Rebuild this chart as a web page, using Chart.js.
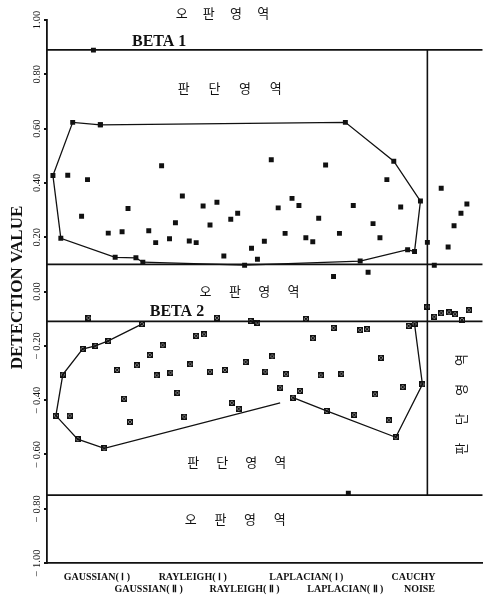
<!DOCTYPE html>
<html>
<head>
<meta charset="utf-8">
<script src="https://cdn.jsdelivr.net/npm/chart.js@4.4.0/dist/chart.umd.min.js"></script>
<style>
    body { margin: 0; background: #fff; }
    #wrap { width: 488px; height: 600px; position: relative; }
</style>
</head>
<body>
<div id="wrap"><canvas id="detectionChart"></canvas></div>
<script>
// threshold levels (detection value) and the x where the cauchy/noise strip starts
const upperBand = [0.89, 0.10];
const lowerBand = [-0.11, -0.75];
const noiseSplitX = 38.5;

// upper statistic: boundary of the decision region and the samples
const upperHull = [
    [5.4, 0.614], [2.6, 0.623], [0.6, 0.427], [1.4, 0.196], [6.9, 0.126], [9.0, 0.124],
    [9.7, 0.108], [20.0, 0.097], [31.7, 0.112], [36.5, 0.154], [37.2, 0.147], [37.8, 0.333],
    [35.1, 0.480], [30.2, 0.623], [5.4, 0.614]
];
const upperPoints = [
    [2.1, 0.428], [4.1, 0.412], [3.5, 0.277], [8.2, 0.306], [6.2, 0.215], [7.6, 0.220],
    [11.6, 0.463], [13.7, 0.352], [10.3, 0.224], [11.0, 0.180], [12.4, 0.194], [13.0, 0.253],
    [14.4, 0.186], [15.1, 0.180], [15.8, 0.315], [16.5, 0.245], [17.2, 0.329], [17.9, 0.131],
    [18.6, 0.266], [19.3, 0.288], [20.7, 0.159], [21.3, 0.119], [22.0, 0.185], [22.7, 0.485],
    [23.4, 0.308], [24.8, 0.343], [25.5, 0.317], [27.5, 0.270], [24.1, 0.214], [26.2, 0.198],
    [26.9, 0.183], [28.2, 0.466], [29.6, 0.214], [31.0, 0.317], [33.0, 0.250], [33.7, 0.198],
    [34.4, 0.412], [35.8, 0.311]
];
const upperOutliers = [[4.7, 0.889], [29.0, 0.055], [32.5, 0.071], [30.5, -0.743]];
const upperNoise = [
    [38.5, 0.181], [39.2, 0.097], [39.9, 0.380], [42.5, 0.322], [41.9, 0.288], [41.2, 0.242], [40.6, 0.164]
];

// lower statistic
const lowerHullLeft = [
    [9.6, -0.120], [6.2, -0.182], [4.9, -0.200], [3.6, -0.212], [1.6, -0.306], [0.9, -0.457],
    [3.1, -0.544], [5.8, -0.578], [23.6, -0.410]
];
const lowerHullRight = [[24.9, -0.391], [28.3, -0.440], [35.3, -0.537], [38.0, -0.342], [37.2, -0.119]];
const lowerPoints = [
    [4.2, -0.097], [17.2, -0.097], [20.6, -0.108], [21.3, -0.115], [26.2, -0.101], [2.3, -0.457],
    [7.1, -0.289], [9.1, -0.272], [10.4, -0.234], [11.7, -0.198], [15.1, -0.163], [15.9, -0.158],
    [11.1, -0.309], [12.5, -0.299], [14.5, -0.268], [16.5, -0.295], [18.0, -0.289], [20.1, -0.260],
    [22.1, -0.295], [22.8, -0.239], [7.8, -0.395], [13.2, -0.373], [18.7, -0.410], [19.4, -0.432],
    [8.4, -0.480], [13.9, -0.461], [29.0, -0.134], [31.7, -0.142], [32.4, -0.139], [26.9, -0.172],
    [24.2, -0.305], [27.7, -0.309], [29.8, -0.303], [33.8, -0.244], [23.6, -0.354], [25.6, -0.366],
    [36.0, -0.352], [33.2, -0.379], [31.1, -0.454], [34.6, -0.474], [36.6, -0.127]
];
const lowerNoise = [
    [38.5, -0.056], [39.2, -0.093], [39.9, -0.080], [40.7, -0.077], [41.3, -0.084], [42.0, -0.105], [42.7, -0.069]
];

// noise types along the x axis (two staggered rows)
const groupNames = ['GAUSSIAN( Ⅰ )', 'GAUSSIAN( Ⅱ )', 'RAYLEIGH( Ⅰ )', 'RAYLEIGH( Ⅱ )',
    'LAPLACIAN( Ⅰ )', 'LAPLACIAN( Ⅱ )', 'CAUCHY', 'NOISE'];
const groupCenters = [5.05, 10.3, 14.75, 20.0, 26.25, 30.2, 37.1, 37.7];

const toXY = arr => arr.map(([x, y]) => ({ x, y }));

// small boxed cross used for the lower statistic
function crossMark() {
    const c = document.createElement('canvas');
    c.width = 6; c.height = 6;
    const g = c.getContext('2d');
    g.strokeStyle = '#111';
    g.lineWidth = 1.2;
    g.strokeRect(0.6, 0.6, 4.8, 4.8);
    g.beginPath();
    g.moveTo(1, 1); g.lineTo(5, 5);
    g.moveTo(5, 1); g.lineTo(1, 5);
    g.stroke();
    return c;
}
const crossStyle = crossMark();

function hLine(v) {
    return {
        data: [{ x: 0, y: v }, { x: 44.1, y: v }],
        showLine: true, borderColor: '#111', borderWidth: 1.6, pointRadius: 0
    };
}

function pointSet(arr, style, r) {
    return {
        data: toXY(arr), showLine: false, pointStyle: style, pointRadius: r,
        backgroundColor: '#111', borderColor: '#111', borderWidth: 0
    };
}

const annotate = {
    id: 'annotate',
    afterDraw(chart) {
        const { ctx, chartArea, scales: { x, y } } = chart;
        ctx.save();
        ctx.fillStyle = '#111';
        ctx.textAlign = 'center';
        ctx.textBaseline = 'middle';

        // y tick labels, rotated
        ctx.font = '10.5px "Liberation Serif"';
        y.ticks.forEach(t => {
            const py = y.getPixelForValue(t.value);
            const label = t.value < -1e-9 ? '− ' + Math.abs(t.value).toFixed(2) : Math.abs(t.value).toFixed(2);
            ctx.save();
            ctx.translate(chartArea.left - 10, py);
            ctx.rotate(-Math.PI / 2);
            ctx.fillText(label, 0, 0);
            ctx.restore();
        });

        // axis title
        ctx.font = 'bold 17px "Liberation Serif"';
        ctx.save();
        ctx.translate(18, (chartArea.top + chartArea.bottom) / 2 - 4);
        ctx.rotate(-Math.PI / 2);
        ctx.fillText('DETECTION VALUE', 0, 0);
        ctx.restore();

        // noise type names
        ctx.font = 'bold 10px "Liberation Serif"';
        groupNames.forEach((name, i) => {
            const row = i % 2 === 0 && i < 7 ? 0 : 1;
            ctx.fillText(name, x.getPixelForValue(groupCenters[i]), chartArea.bottom + 14 + row * 12);
        });

        // beta labels
        ctx.font = 'bold 16px "Liberation Serif"';
        ctx.textAlign = 'left';
        ctx.textBaseline = 'alphabetic';
        ctx.fillText('BETA 1', x.getPixelForValue(8.6), y.getPixelForValue(upperBand[0]) - 4);
        ctx.fillText('BETA 2', x.getPixelForValue(10.4), y.getPixelForValue(lowerBand[0]) - 5);

        // region names
        ctx.font = '13px "Noto Sans CJK KR"';
        ctx.textAlign = 'center';
        ctx.textBaseline = 'middle';
        const regions = [
            ['오판영역', 17.75, 1.026, 2.75],
            ['판단영역', 18.5, 0.75, 3.1],
            ['오판영역', 20.5, 0.0, 2.97],
            ['판단영역', 19.2, -0.628, 2.93],
            ['오판영역', 19.05, -0.838, 3.0]
        ];
        regions.forEach(([text, cx, cy, step]) => {
            [...text].forEach((ch, i) => {
                ctx.fillText(ch, x.getPixelForValue(cx + (i - 1.5) * step), y.getPixelForValue(cy));
            });
        });

        // strip on the right, characters turned on their side
        [...'판단영역'].forEach((ch, i) => {
            ctx.save();
            ctx.translate(x.getPixelForValue(41.9), y.getPixelForValue(-0.416 - (1.5 - i) * 0.109));
            ctx.rotate(-Math.PI / 2);
            ctx.fillText(ch, 0, 0);
            ctx.restore();
        });
        ctx.restore();
    }
};

new Chart(document.getElementById('detectionChart'), {
    type: 'scatter',
    data: {
        datasets: [
            hLine(upperBand[0]), hLine(upperBand[1]), hLine(lowerBand[0]), hLine(lowerBand[1]),
            {
                data: [{ x: noiseSplitX, y: upperBand[0] }, { x: noiseSplitX, y: lowerBand[1] }],
                showLine: true, borderColor: '#111', borderWidth: 1.6, pointRadius: 0
            },
            {
                data: toXY(upperHull), showLine: true, borderColor: '#111', borderWidth: 1.3,
                pointStyle: 'rect', pointRadius: 3.5, backgroundColor: '#111', pointBorderWidth: 0
            },
            {
                data: toXY(lowerHullLeft), showLine: true, borderColor: '#111', borderWidth: 1.3,
                pointStyle: crossStyle, pointRadius: lowerHullLeft.map((p, i) => i === lowerHullLeft.length - 1 ? 0 : 3)
            },
            {
                data: toXY(lowerHullRight), showLine: true, borderColor: '#111', borderWidth: 1.3,
                pointStyle: crossStyle, pointRadius: 3
            },
            pointSet(upperPoints, 'rect', 3.5),
            pointSet(upperOutliers, 'rect', 3.5),
            pointSet(upperNoise, 'rect', 3.5),
            pointSet(lowerPoints, crossStyle, 3),
            pointSet(lowerNoise, crossStyle, 3)
        ]
    },
    options: {
        responsive: true,
        maintainAspectRatio: false,
        animation: false,
        layout: { padding: { left: 47, top: 20, right: 0, bottom: 37 } },
        plugins: { legend: { display: false }, tooltip: { enabled: false } },
        scales: {
            x: {
                type: 'linear', min: 0, max: 44.1,
                ticks: { display: false },
                grid: { display: false },
                border: { display: true, color: '#111', width: 1.8 },
                afterFit: s => { s.height = 0; }
            },
            y: {
                min: -1, max: 1,
                ticks: { display: false, stepSize: 0.2 },
                grid: { display: true, drawOnChartArea: false, drawTicks: true, tickLength: 3, color: '#111', lineWidth: 2 },
                border: { display: true, color: '#111', width: 1.8 },
                afterFit: s => { s.width = 0; }
            }
        }
    },
    plugins: [annotate]
});
</script>
</body>
</html>
